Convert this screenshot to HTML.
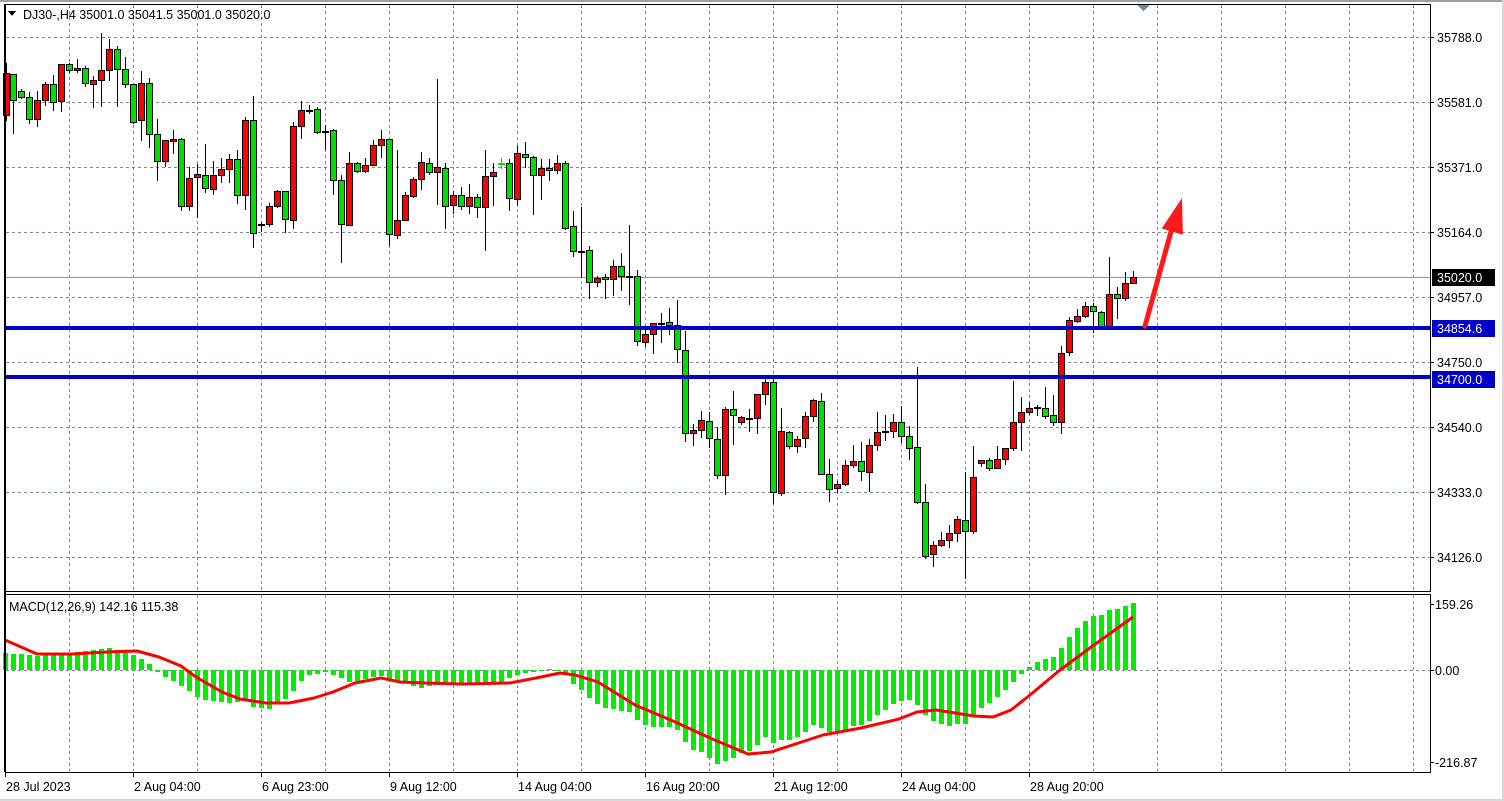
<!DOCTYPE html>
<html><head><meta charset="utf-8"><style>
html,body{margin:0;padding:0;background:#fff;}
svg{display:block;font-family:"Liberation Sans",sans-serif;}
</style></head><body>
<svg id="s" width="1504" height="801" xmlns="http://www.w3.org/2000/svg" shape-rendering="crispEdges"></svg>
<script>
const S=document.getElementById('s');let h='';
h+='<rect x="0" y="0" width="1504" height="801" fill="#fff"/>';
h+='<rect x="0" y="0" width="1504" height="2" fill="#a0a0a0"/>';
h+='<rect x="1502" y="0" width="2" height="801" fill="#d8d8d8"/><rect x="0" y="799" width="1504" height="2" fill="#d8d8d8"/>';
// grids
const gc='#7a8898';
for(let k=0;k<22;k++){const x=Math.round(69.4+64*k)+0.5;
h+=`<line x1="${x}" y1="5" x2="${x}" y2="591" stroke="${gc}" stroke-dasharray="3,3"/>`;
h+=`<line x1="${x}" y1="595" x2="${x}" y2="771" stroke="${gc}" stroke-dasharray="3,3"/>`;}
[37,102,167,232,297,362,427,492,557].forEach(y=>{h+=`<line x1="6" y1="${y+.5}" x2="1430" y2="${y+.5}" stroke="${gc}" stroke-dasharray="3,3"/>`;});
h+=`<line x1="6" y1="670.5" x2="1430" y2="670.5" stroke="${gc}" stroke-dasharray="3,3"/>`;
// current price line
h+='<line x1="6" y1="277.5" x2="1430" y2="277.5" stroke="#8a949e"/>';
// candles
const C=`6 r 73 115 63 120
13 g 74 100 74 133
21 g 91 97 89 98
29 g 97 119 92 123
37 r 100 119 91 126
45 r 84 100 82 105
53 g 84 102 75 110
61 r 64 101 64 111
69 g 64 70 63 72
77 r 68 70 59 72
85 g 68 83 66 86
93 r 80 84 76 107
101 r 70 80 33 106
109 r 49 70 39 80
117 g 49 69 46 106
125 g 69 84 57 87
133 g 84 122 84 123
141 r 83 120 71 140
149 g 83 134 78 147
157 g 134 161 119 180
165 r 140 161 140 166
173 r 139 141 130 153
181 g 139 206 138 210
189 r 178 206 167 210
197 r 174 177 164 217
205 g 175 188 144 192
213 r 175 189 161 194
221 r 169 175 158 182
229 r 159 169 154 182
237 g 159 195 150 203
245 r 120 195 117 209
253 g 120 233 96 247
261 d 224 224 222 231
269 r 206 224 203 226
277 r 191 206 190 207
285 g 191 219 191 232
293 r 126 220 122 228
301 r 110 126 101 138
309 d 110 110 105 113
317 g 109 132 107 133
325 d 131 131 125 149
333 g 130 180 129 194
341 g 180 224 175 262
349 r 163 225 152 225
357 g 163 171 162 172
365 r 165 171 158 172
373 r 145 165 140 165
381 r 139 145 130 157
389 g 139 234 139 245
397 r 220 235 150 238
405 r 195 220 192 220
413 r 179 196 177 197
421 r 162 179 152 189
429 g 163 172 158 174
437 r 167 172 79 204
445 g 168 206 163 228
453 r 195 205 191 213
461 g 195 206 187 209
469 r 197 206 184 213
477 g 197 207 194 217
485 r 176 207 150 250
493 r 172 176 163 205
501 e 163 163 158 168
509 g 163 198 159 210
517 r 153 199 146 205
525 g 154 157 142 167
533 g 157 175 156 214
541 r 168 175 159 199
549 g 168 170 159 180
557 r 163 170 155 173
565 g 163 228 161 229
573 g 226 251 211 256
581 d 251 251 207 277
589 g 250 282 246 298
597 r 278 282 276 286
605 g 277 279 274 298
613 r 266 279 260 295
621 g 266 276 253 290
629 d 276 276 225 304
637 g 276 341 270 345
645 r 334 342 330 346
653 r 323 334 323 353
661 d 323 323 313 342
669 g 322 325 308 334
677 g 325 349 300 362
685 g 350 433 331 441
693 r 430 433 424 445
701 r 420 430 411 437
709 g 421 438 412 447
717 g 439 475 427 478
725 r 409 475 407 494
733 g 409 415 391 444
741 r 417 422 416 424
749 d 418 418 409 431
757 r 394 418 394 433
765 r 382 394 379 404
773 g 382 492 379 503
781 r 431 493 408 495
789 g 432 446 431 448
797 r 439 446 436 452
805 r 416 438 412 447
813 r 400 416 399 421
821 g 401 474 393 474
829 g 474 489 459 501
837 r 484 488 481 492
845 r 465 484 460 485
853 r 461 465 445 467
861 g 461 471 442 480
869 r 445 472 439 491
877 r 432 445 412 450
885 d 431 431 415 440
893 r 422 431 414 437
901 g 422 436 406 442
909 g 436 448 426 459
917 g 447 502 367 503
925 g 502 556 484 558
933 r 545 554 541 566
941 r 540 545 532 546
949 r 533 540 525 547
957 r 519 533 516 541
965 g 520 531 472 578
973 r 477 531 446 533
981 r 460 463 460 466
989 g 460 468 458 470
997 r 459 468 446 468
1005 r 448 459 448 464
1013 r 422 448 381 450
1021 r 412 422 397 450
1029 r 408 412 402 414
1037 d 407 407 405 415
1045 g 408 416 387 418
1053 g 415 422 395 425
1061 r 353 422 346 433
1069 r 320 352 317 355
1077 r 316 321 309 322
1085 r 306 316 302 317
1093 g 306 311 303 332
1101 g 312 326 311 327
1109 r 294 326 257 326
1117 g 294 298 287 318
1125 r 283 298 272 300
1133 r 277 283 271 283`;
C.split('\n').forEach(l=>{const p=l.trim().split(/\s+/);const x=+p[0],c=p[1],bt=+p[2],bb=+p[3],wt=+p[4],wb=+p[5];
const col=c=='e'?'#00e000':'#000';
h+=`<rect x="${x}" y="${wt}" width="1" height="${wb-wt+1}" fill="${col}"/>`;
if(c=='d'||c=='e'){h+=`<rect x="${x-3}" y="${bt}" width="7" height="2" fill="${col}"/>`;}
else{h+=`<rect x="${x-3}" y="${bt}" width="7" height="${Math.max(bb-bt+1,3)}" fill="#000"/><rect x="${x-2}" y="${bt+1}" width="5" height="${Math.max(bb-bt-1,1)}" fill="${c=='r'?'#ff0000':'#00e000'}"/>`;}
});
// blue levels
h+='<rect x="6" y="326" width="1424" height="4" fill="#0000c8"/>';
h+='<rect x="6" y="375" width="1424" height="4" fill="#0000c8"/>';
// arrow
h+='<g shape-rendering="geometricPrecision"><line x1="1145" y1="326" x2="1172" y2="228" stroke="#ff1a1a" stroke-width="5" stroke-linecap="round"/><polygon points="1182,198 1161.7,228.5 1182.9,234.7" fill="#ff1a1a"/></g>';
// triangle at top
h+='<polygon points="1137,5 1150,5 1143.5,11" fill="#7a8898"/>';
// MACD histogram
const H1=[[5,17],[40,14],[75,18],[110,22],[125,18],[140,12],[150,5],[160,-5],[175,-12],[190,-22],[200,-29],[230,-33],[245,-31],[250,-37],[270,-39],[285,-29],[295,-19],[305,-6],[325,-2],[340,-8],[350,-13],[365,-9],[380,-6],[400,-12],[420,-18],[440,-14],[470,-15],[500,-12],[520,-4],[540,-1],[555,1],[560,-5]];
function interp(pts,x){for(let i=0;i<pts.length-1;i++){if(x<=pts[i+1][0]){const a=pts[i],b=pts[i+1];return a[1]+(b[1]-a[1])*(x-a[0])/(b[0]-a[0]);}}return pts[pts.length-1][1];}
const H2=[-5,-14,-20,-28,-34,-38,-39,-41,-42,-50,-55,-57,-57,-57,-60,-72,-80,-82,-88,-94,-91,-88,-83,-81,-75,-67,-73,-70,-70,-67,-62,-55,-58,-62,-62,-60,-56,-55,-51,-45,-40,-34,-31,-30,-35,-45,-51,-54,-56,-54,-54,-45,-38,-33,-27,-20,-12,-4,3,8,11,13,22,33,42,49,54,55,60,61,64,67];
for(let k=0;k<=141;k++){const x=5+8*k;let v=k<70?Math.round(interp(H1,x)):H2[k-70];
if(Math.abs(v)<1)v=v<0?-1:1;
const y=v>0?670-v:670;h+=`<rect x="${x-2}" y="${y}" width="5" height="${Math.abs(v)}" fill="#00ee00"/>`;}
// signal
const L=[[5,640],[37,654],[74,654],[107,652],[137,651],[159,657],[181,666],[196,677],[222,692],[240,699],[266,703],[289,703],[314,698],[333,692],[355,683],[381,678],[400,682],[425,683],[462,684],[510,683],[536,678],[560,673],[575,675],[598,682],[635,705],[673,721],[710,738],[748,754],[771,752],[823,735],[861,728],[899,719],[917,712],[936,710],[974,716],[993,717],[1011,710],[1030,695],[1060,670],[1094,645],[1133,617]];
h+=`<polyline shape-rendering="geometricPrecision" points="${L.map(p=>p.join(',')).join(' ')}" fill="none" stroke="#ff0000" stroke-width="3" stroke-linejoin="round"/>`;
// frames
h+='<rect x="5" y="4" width="1425" height="587" fill="none" stroke="#000" stroke-width="1" transform="translate(.5,.5)"/>';
h+='<rect x="5" y="594" width="1425" height="178" fill="none" stroke="#000" stroke-width="1" transform="translate(.5,.5)"/>';
h+='<rect x="4" y="4" width="2" height="768" fill="#000"/>';
// price labels
const PL=[[37,'35788.0'],[102,'35581.0'],[167,'35371.0'],[232,'35164.0'],[297,'34957.0'],[362,'34750.0'],[427,'34540.0'],[492,'34333.0'],[557,'34126.0']];
PL.forEach(p=>{h+=`<line x1="1431" y1="${p[0]+.5}" x2="1434" y2="${p[0]+.5}" stroke="#000"/><text x="1437" y="${p[0]+5}" font-size="12.5" fill="#000">${p[1]}</text>`;});
h+='<rect x="1432" y="269" width="63" height="17" fill="#000"/><text x="1437" y="282" font-size="12.5" fill="#fff">35020.0</text>';
h+='<rect x="1432" y="320" width="63" height="17" fill="#0000c8"/><text x="1437" y="333" font-size="12.5" fill="#fff">34854.6</text>';
h+='<rect x="1432" y="371" width="63" height="17" fill="#0000c8"/><text x="1437" y="384" font-size="12.5" fill="#fff">34700.0</text>';
[[604,'159.26'],[670,'0.00'],[762,'-216.87']].forEach(p=>{h+=`<line x1="1431" y1="${p[0]+.5}" x2="1434" y2="${p[0]+.5}" stroke="#000"/><text x="1435" y="${p[0]+5}" font-size="12.5" fill="#000">${p[1]}</text>`;});
// time labels
[[5,'28 Jul 2023'],[133,'2 Aug 04:00'],[261,'6 Aug 23:00'],[389,'9 Aug 12:00'],[517,'14 Aug 04:00'],[645,'16 Aug 20:00'],[773,'21 Aug 12:00'],[901,'24 Aug 04:00'],[1029,'28 Aug 20:00']].forEach(p=>{h+=`<line x1="${p[0]+.5}" y1="773" x2="${p[0]+.5}" y2="777" stroke="#000"/><text x="${p[0]+1}" y="791" font-size="12.5" fill="#000">${p[1]}</text>`;});
// titles
h+='<polygon points="8,11 16,11 12,16" fill="#000"/>';
h+='<text x="23" y="19" font-size="12.5" fill="#000">DJ30-,H4  35001.0 35041.5 35001.0 35020.0</text>';
h+='<text x="9" y="611" font-size="12.5" fill="#000">MACD(12,26,9) 142.16 115.38</text>';
S.innerHTML=h;
</script>
</body></html>
